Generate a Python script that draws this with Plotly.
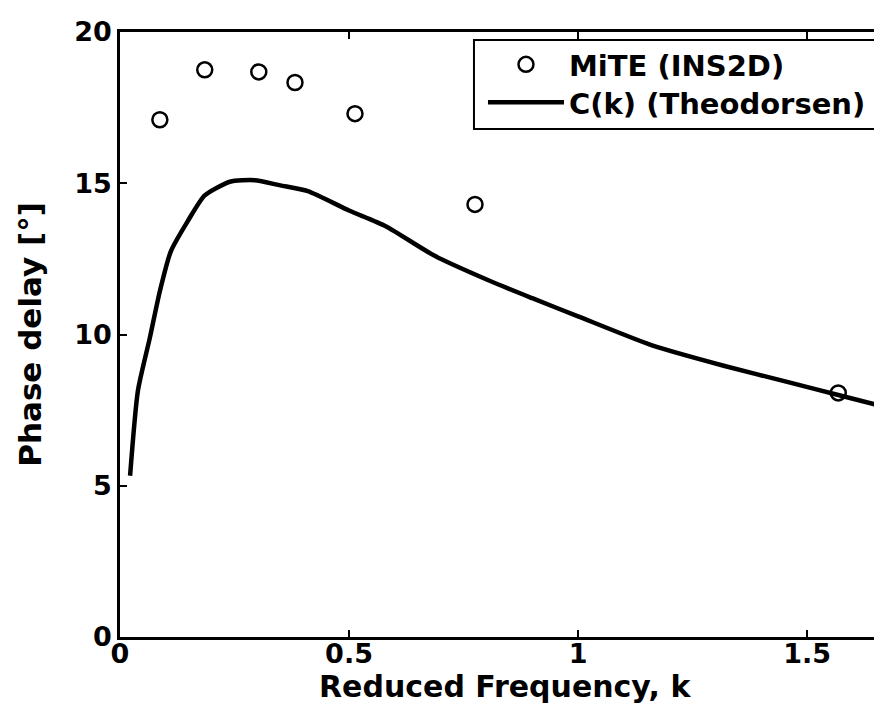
import plotly.graph_objects as go

# MiTE (INS2D) data points
mite_k = [0.087, 0.185, 0.303, 0.382, 0.513, 0.775, 1.568]
mite_phase = [17.1, 18.75, 18.68, 18.33, 17.3, 14.3, 8.07]

# Theodorsen C(k) phase curve
theo_k = [0.022, 0.039, 0.065, 0.087, 0.111, 0.148, 0.185, 0.24, 0.294, 0.35,
          0.41, 0.5, 0.58, 0.687, 0.803, 0.9, 1.0, 1.16, 1.32, 1.465, 1.568, 1.68]
theo_phase = [5.33, 8.13, 9.88, 11.43, 12.75, 13.75, 14.6, 15.05, 15.1, 14.93,
              14.74, 14.1, 13.58, 12.6, 11.8, 11.2, 10.6, 9.65, 8.96, 8.4, 8.0, 7.57]

x_ticks = [0, 0.5, 1, 1.5]
x_tick_labels = ["0", "0.5", "1", "1.5"]
y_ticks = [0, 5, 10, 15, 20]
x_title = "Reduced Frequency, k"
y_title = "Phase delay [°]"

FONT = "DejaVu Sans"
LEG_FONT = dict(family=FONT, size=29, color="black", weight="bold")

fig = go.Figure()
fig.add_trace(go.Scatter(
    x=mite_k, y=mite_phase, mode="markers", name="MiTE (INS2D)", legend="legend",
    marker=dict(symbol="circle-open", size=15, color="black", line=dict(width=2.5, color="black")),
))
fig.add_trace(go.Scatter(
    x=theo_k, y=theo_phase, mode="lines", name="C(k) (Theodorsen)", legend="legend2",
    line=dict(color="black", width=4.5, shape="spline", smoothing=0.6),
))

fig.update_layout(
    width=882, height=711,
    margin=dict(l=112, r=0, t=24, b=82, autoexpand=False),
    paper_bgcolor="white", plot_bgcolor="white",
    font=dict(family=FONT, color="black", size=28),
    showlegend=True,
    legend=dict(
        x=0.4714, y=0.9884, xanchor="left", yanchor="top",
        borderwidth=0, bgcolor="rgba(0,0,0,0)",
        font=LEG_FONT, itemwidth=76,
    ),
    legend2=dict(
        x=0.4714, y=0.9257, xanchor="left", yanchor="top",
        borderwidth=0, bgcolor="rgba(0,0,0,0)",
        font=LEG_FONT, itemwidth=76,
    ),
    shapes=[dict(
        type="rect", xref="paper", yref="paper",
        x0=0.4597, x1=0.9896, y0=0.8398, y1=0.9868,
        line=dict(color="black", width=2), fillcolor="rgba(0,0,0,0)", layer="above",
    )],
    xaxis=dict(
        range=[0, 1.681], tickvals=x_ticks, ticktext=x_tick_labels,
        ticks="inside", ticklen=7, tickwidth=2, tickcolor="black",
        showline=True, linecolor="black", linewidth=2.5, mirror="ticks",
        showgrid=False, zeroline=False, automargin=False,
        ticklabelstandoff=-9,
        tickfont=dict(family=FONT, size=27, weight="bold"),
    ),
    yaxis=dict(
        range=[0, 20], tickvals=y_ticks,
        ticks="inside", ticklen=7, tickwidth=2, tickcolor="black",
        showline=True, linecolor="black", linewidth=2.5,
        showgrid=False, zeroline=False, automargin=False,
        tickfont=dict(family=FONT, size=27, weight="bold"),
        title=dict(text=y_title, font=dict(family=FONT, size=31, weight="bold"), standoff=24),
    ),
    yaxis2=dict(
        overlaying="y", side="right", anchor="x", matches="y",
        range=[0, 20], tickvals=y_ticks,
        ticks="inside", ticklen=7, tickwidth=2, tickcolor="black",
        showline=False, showticklabels=False, showgrid=False, zeroline=False,
        automargin=False,
    ),
    annotations=[dict(
        text=x_title, xref="paper", yref="paper", x=0.5, y=-0.082,
        xanchor="center", yanchor="middle", showarrow=False,
        font=dict(family=FONT, size=30, weight="bold", color="black"),
    )],
)

fig.write_html("out.html")
